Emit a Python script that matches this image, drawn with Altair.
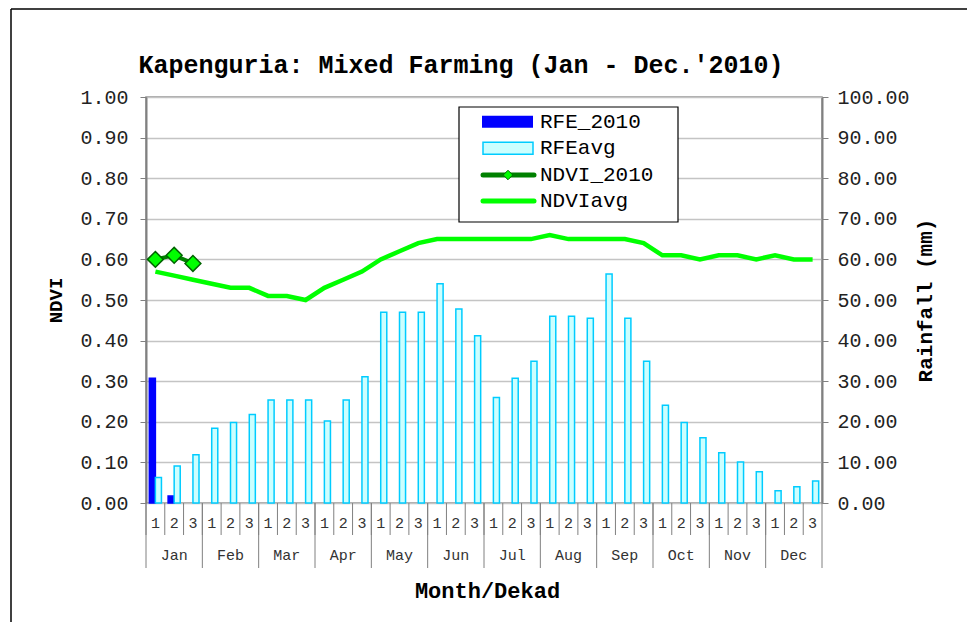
import altair as alt
import pandas as pd

# ---------------- data ----------------
months = ['Jan', 'Feb', 'Mar', 'Apr', 'May', 'Jun', 'Jul', 'Aug', 'Sep', 'Oct', 'Nov', 'Dec']
dekad_nums = ['1', '2', '3']

rfe_2010 = [30.7, 1.7]
rfe_avg = [6.3, 9.1, 11.9, 18.4, 19.8, 21.8, 25.4, 25.4, 25.4, 20.2, 25.4, 31.1,
           47.0, 47.0, 47.0, 54.0, 47.8, 41.2, 26.0, 30.7, 34.9, 46.0, 46.0, 45.5,
           56.4, 45.5, 34.9, 24.1, 19.8, 16.1, 12.4, 10.1, 7.7, 3.0, 4.0, 5.4]
ndvi_2010 = [0.60, 0.61, 0.59]
ndvi_avg = [0.57, 0.56, 0.55, 0.54, 0.53, 0.53, 0.51, 0.51, 0.50, 0.53, 0.55, 0.57,
            0.60, 0.62, 0.64, 0.65, 0.65, 0.65, 0.65, 0.65, 0.65, 0.66, 0.65, 0.65,
            0.65, 0.65, 0.64, 0.61, 0.61, 0.60, 0.61, 0.61, 0.60, 0.61, 0.60, 0.60]
ndvi_ticks = [0.0, 0.1, 0.2, 0.3, 0.4, 0.5, 0.6, 0.7, 0.8, 0.9, 1.0]
rain_ticks = [0, 10, 20, 30, 40, 50, 60, 70, 80, 90, 100]
legend_labels = ['RFE_2010', 'RFEavg', 'NDVI_2010', 'NDVIavg']
title_text = "Kapenguria: Mixed Farming (Jan - Dec.'2010)"

# ---------------- tables ----------------
ids = [f"{m}-{d}" for m in months for d in dekad_nums]
dek_df = pd.DataFrame({'id': ids,
                       'dek': [d for m in months for d in dekad_nums],
                       'month': [m for m in months for d in dekad_nums]})

bar_rows = []
for i, v in enumerate(rfe_2010):
    bar_rows.append({'id': ids[i], 'series': 'RFE_2010', 'value': v})
for i, v in enumerate(rfe_avg):
    bar_rows.append({'id': ids[i], 'series': 'RFEavg', 'value': v})
bars_df = pd.DataFrame(bar_rows)

avg_df = pd.DataFrame({'id': ids, 'ndvi': ndvi_avg})
n10_df = pd.DataFrame({'id': ids[:len(ndvi_2010)], 'ndvi': ndvi_2010})

month_first = dek_df[dek_df['dek'] == '1']
month_mid = dek_df[dek_df['dek'] == '2']
last_df = dek_df.tail(1)

# ---------------- layout ----------------
W, H = 676, 406
PAD = {'left': 138, 'top': 89, 'right': 146, 'bottom': 120}
FONT = 'Liberation Mono'
GREY = '#808080'

xaxis = alt.Axis(labels=False, ticks=False, domain=False, grid=False,
                 title='Month/Dekad', titleFont=FONT, titleFontSize=22,
                 titleFontWeight='bold', titleColor='#000000',
                 titleX=341, titleY=87, titleAlign='center', titleBaseline='middle')
xscale = alt.Scale(type='band', domain=ids, paddingInner=0, paddingOuter=0)


def X(bp=0.5):
    return alt.X('id:N', scale=xscale, axis=xaxis, bandPosition=bp)


left_axis = alt.Axis(orient='left', values=ndvi_ticks, format='.2f', grid=True,
                     gridColor='#c4c4c4', gridWidth=1.5,
                     domainColor=GREY, domainWidth=2, tickColor=GREY, tickSize=6,
                     labelFont=FONT, labelFontSize=20, labelColor='#222222', labelPadding=12,
                     title='NDVI', titleFont=FONT, titleFontSize=19, titleFontWeight='bold',
                     titleColor='#000000', titleAngle=270, titleX=-91, titleY=H / 2,
                     titleAlign='center', titleBaseline='middle')
right_axis = alt.Axis(orient='right', values=rain_ticks, format='.2f', grid=False,
                      domainColor=GREY, domainWidth=2, tickColor=GREY, tickSize=6,
                      labelFont=FONT, labelFontSize=20, labelColor='#222222', labelPadding=9,
                      title='Rainfall (mm)', titleFont=FONT, titleFontSize=21,
                      titleFontWeight='bold', titleColor='#000000', titleAngle=270,
                      titleX=103, titleY=H / 2, titleAlign='center', titleBaseline='middle')

one = pd.DataFrame({'a': [0]})

# outer frame (only its left and top edges fall inside the picture); kept inside the canvas
frame_left = alt.Chart(one).mark_rule(color='#000000', strokeWidth=1.5).encode(
    x=alt.value(-135), y=alt.value(-88), y2=alt.value(H + PAD['bottom'] - 1))
frame_top = alt.Chart(one).mark_rule(color='#000000', strokeWidth=1.5).encode(
    x=alt.value(-135), x2=alt.value(W + PAD['right'] - 1), y=alt.value(-88))

# chart title
title = alt.Chart(pd.DataFrame({'t': [title_text]})).mark_text(
    font=FONT, fontSize=25, fontWeight='bold', color='#000000', align='center', baseline='middle').encode(
    x=alt.value(315), y=alt.value(-32), text='t:N')

# bars (rainfall, right axis)
series_dom = ['RFE_2010', 'RFEavg']
bars = alt.Chart(bars_df).mark_bar(strokeWidth=1.5).encode(
    x=X(),
    xOffset=alt.XOffset('series:N', scale=alt.Scale(domain=series_dom, paddingInner=0, paddingOuter=0.55)),
    y=alt.Y('value:Q', scale=alt.Scale(domain=[0, 100], nice=False, zero=True), axis=right_axis),
    fill=alt.Fill('series:N', scale=alt.Scale(domain=series_dom, range=['#0000ff', '#ccffff']), legend=None),
    stroke=alt.Stroke('series:N', scale=alt.Scale(domain=series_dom, range=['#0000ff', '#00ccff']), legend=None),
)

# NDVI lines (left axis)
yN = alt.Y('ndvi:Q', scale=alt.Scale(domain=[0, 1], nice=False, zero=True), axis=left_axis)
avg_line = alt.Chart(avg_df).mark_line(color='#00ff00', strokeWidth=4.5).encode(x=X(), y=yN)
n10_line = alt.Chart(n10_df).mark_line(color='#008000', strokeWidth=4).encode(x=X(), y=yN)
n10_pts = alt.Chart(n10_df).mark_point(shape='diamond', size=250, filled=True, fill='#00ff00',
                                       stroke='#006400', strokeWidth=1.5, opacity=1).encode(x=X(), y=yN)
ndvi_group = alt.layer(avg_line, n10_line, n10_pts)

# category axis (dekads / months)
dek_sep = alt.Chart(dek_df).mark_rule(color=GREY, strokeWidth=1).encode(
    x=X(0), y=alt.value(H), y2=alt.value(H + 32))
mon_sep = alt.Chart(month_first).mark_rule(color=GREY, strokeWidth=1).encode(
    x=X(0), y=alt.value(H), y2=alt.value(H + 65))
end_sep = alt.Chart(last_df).mark_rule(color=GREY, strokeWidth=1).encode(
    x=X(1), y=alt.value(H), y2=alt.value(H + 65))
dek_lab = alt.Chart(dek_df).mark_text(font=FONT, fontSize=15, color='#333333', baseline='middle').encode(
    x=X(), y=alt.value(H + 20), text='dek:N')
mon_lab = alt.Chart(month_mid).mark_text(font=FONT, fontSize=15, color='#333333', baseline='middle').encode(
    x=X(), y=alt.value(H + 52), text='month:N')

# legend
leg_box = alt.Chart(one).mark_rect(fill='#ffffff', stroke='#000000', strokeWidth=1.2).encode(
    x=alt.value(313), x2=alt.value(532), y=alt.value(10), y2=alt.value(125))
row_y = [24.7, 51.3, 78.0, 104.0]
leg_rfe = alt.Chart(one).mark_rect(fill='#0000ff').encode(
    x=alt.value(336), x2=alt.value(387), y=alt.value(row_y[0] - 6), y2=alt.value(row_y[0] + 6))
leg_avg = alt.Chart(one).mark_rect(fill='#ccffff', stroke='#00ccff', strokeWidth=1.5).encode(
    x=alt.value(337), x2=alt.value(387), y=alt.value(row_y[1] - 6), y2=alt.value(row_y[1] + 6))
leg_n10 = alt.Chart(one).mark_rule(color='#008000', strokeWidth=5, strokeCap='round').encode(
    x=alt.value(337), x2=alt.value(388), y=alt.value(row_y[2]))
leg_n10p = alt.Chart(one).mark_point(shape='diamond', size=90, filled=True, fill='#00ff00',
                                     stroke='#006400', strokeWidth=1, opacity=1).encode(
    x=alt.value(362), y=alt.value(row_y[2]))
leg_navg = alt.Chart(one).mark_rule(color='#00ff00', strokeWidth=5, strokeCap='round').encode(
    x=alt.value(337), x2=alt.value(388), y=alt.value(row_y[3]))
leg_texts = [
    alt.Chart(pd.DataFrame({'t': [lab]})).mark_text(
        font=FONT, fontSize=21, color='#000000', align='left', baseline='middle').encode(
        x=alt.value(394), y=alt.value(yy), text='t:N')
    for lab, yy in zip(legend_labels, row_y)
]

chart = alt.layer(
    frame_left, frame_top, title, bars, ndvi_group, dek_sep, mon_sep, end_sep, dek_lab, mon_lab,
    leg_box, leg_rfe, leg_avg, leg_n10, leg_n10p, leg_navg, *leg_texts
).resolve_scale(
    y='independent'
).properties(
    width=W, height=H,
    padding=PAD,
    autosize=alt.AutoSizeParams(type='none'),
    background='#ffffff',
).configure_view(
    stroke='#909090', strokeWidth=1.5
)

chart.save("out.html", embed_options={"renderer": "svg", "actions": False})
